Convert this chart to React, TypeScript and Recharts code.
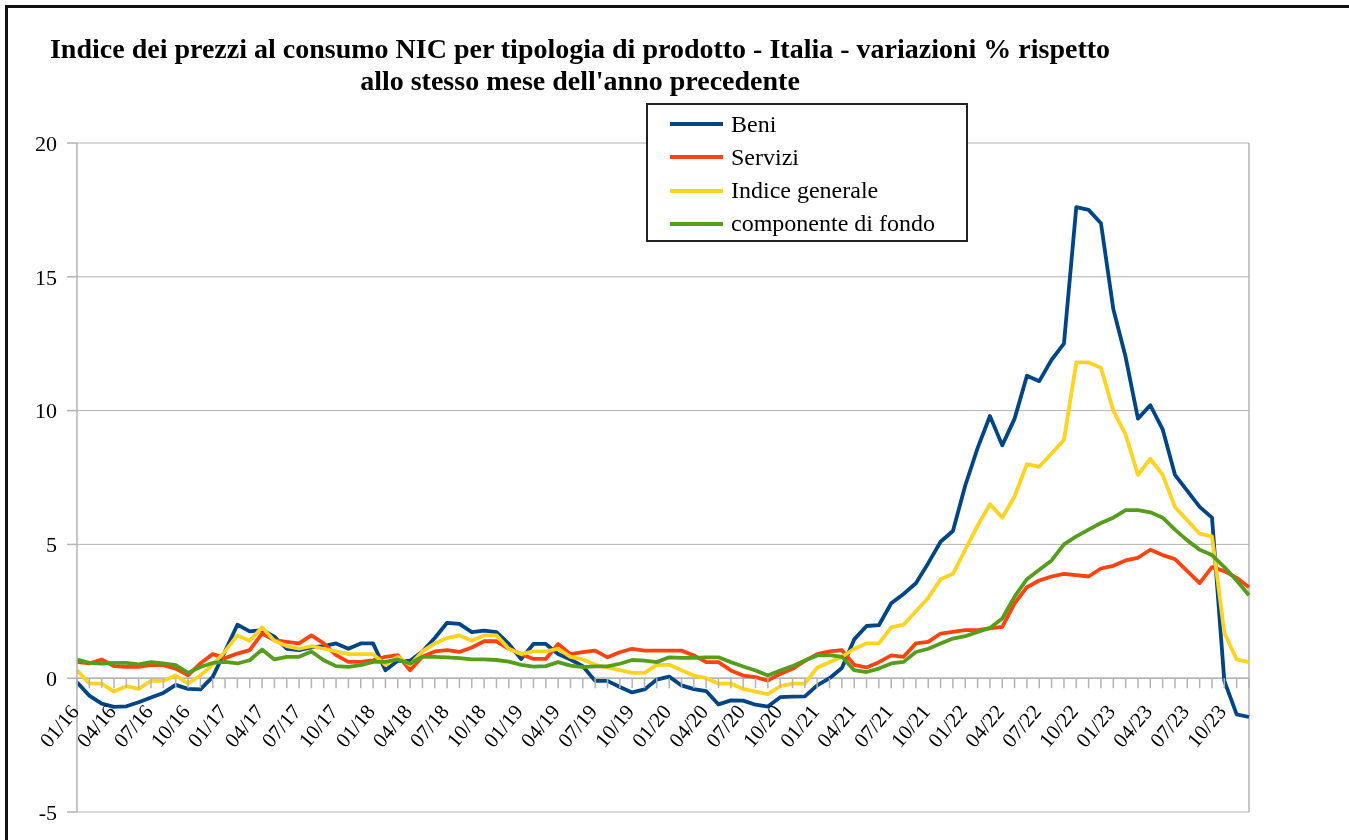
import { CartesianGrid, Line, LineChart, ReferenceLine, XAxis, YAxis } from "recharts";

const years = ["16", "17", "18", "19", "20", "21", "22", "23"];
const monthNums = ["01", "02", "03", "04", "05", "06", "07", "08", "09", "10", "11", "12"];
const months = years.flatMap((y) => monthNums.map((m) => `${m}/${y}`));

const yTicks = [-5, 0, 5, 10, 15, 20];

// variazioni % tendenziali, gen 2016 - dic 2023
const beni = [
  -0.15, -0.65, -0.95, -1.07, -1.05, -0.9, -0.72, -0.55, -0.25, -0.4, -0.42, 0.05,
  1.0, 2.0, 1.75, 1.8, 1.55, 1.1, 1.05, 1.15, 1.2, 1.3, 1.1, 1.3,
  1.3, 0.3, 0.65, 0.65, 1.0, 1.5, 2.07, 2.03, 1.72, 1.78, 1.72, 1.28,
  0.72, 1.28, 1.28, 0.9, 0.7, 0.45, -0.1, -0.1, -0.33, -0.53, -0.42, -0.05,
  0.06, -0.27, -0.41, -0.48, -0.98, -0.83, -0.84, -0.99, -1.06, -0.71, -0.69, -0.68,
  -0.27, 0.0, 0.38, 1.45, 1.95, 1.98, 2.8, 3.15, 3.55, 4.3, 5.1, 5.5,
  7.2, 8.6, 9.8, 8.7, 9.7, 11.3, 11.1, 11.9, 12.5, 17.6, 17.5, 17.0,
  13.8, 12.0, 9.7, 10.2, 9.3, 7.6, 7.0, 6.4, 6.0, -0.1, -1.35, -1.45,
];

const servizi = [
  0.61, 0.55, 0.7, 0.45, 0.42, 0.42, 0.5, 0.49, 0.36, 0.11, 0.55, 0.9,
  0.75, 0.92, 1.05, 1.67, 1.42, 1.36, 1.3, 1.6, 1.3, 0.86, 0.61, 0.61,
  0.67, 0.8, 0.86, 0.3, 0.8, 1.0, 1.05, 0.98, 1.15, 1.38, 1.38, 1.1,
  0.9, 0.72, 0.72, 1.28, 0.9, 0.97, 1.03, 0.78, 0.97, 1.1, 1.03, 1.03,
  1.03, 1.03, 0.85, 0.6, 0.6, 0.29, 0.1, 0.04, -0.09, 0.16, 0.35, 0.65,
  0.9, 1.0, 1.05, 0.5, 0.4, 0.6, 0.85, 0.8, 1.3, 1.36, 1.67, 1.73,
  1.8, 1.8, 1.86, 1.92, 2.8, 3.4, 3.65, 3.8, 3.9, 3.85, 3.8, 4.1,
  4.2, 4.4, 4.5, 4.8, 4.6, 4.45, 4.0, 3.55, 4.15, 4.0, 3.75, 3.4,
];

const indiceGenerale = [
  0.3, -0.2, -0.2, -0.5, -0.3, -0.4, -0.1, -0.1, 0.1, -0.2, 0.1, 0.5,
  1.0, 1.6, 1.4, 1.9, 1.4, 1.2, 1.1, 1.2, 1.1, 1.0, 0.9, 0.9,
  0.9, 0.5, 0.8, 0.5, 1.0, 1.3, 1.5, 1.6, 1.4, 1.6, 1.6, 1.1,
  0.9, 1.0, 1.0, 1.1, 0.8, 0.7, 0.5, 0.4, 0.3, 0.2, 0.2, 0.5,
  0.5, 0.3, 0.1, 0.0, -0.2, -0.2, -0.4, -0.5, -0.6, -0.3, -0.2, -0.2,
  0.4, 0.6, 0.8, 1.1, 1.3, 1.3, 1.9, 2.0, 2.5, 3.0, 3.7, 3.9,
  4.8, 5.7, 6.5, 6.0, 6.8, 8.0, 7.9, 8.4, 8.9, 11.8, 11.8, 11.6,
  10.0, 9.1, 7.6, 8.2, 7.6, 6.4, 5.9, 5.4, 5.3, 1.7, 0.7, 0.6,
];

const componenteDiFondo = [
  0.7, 0.57, 0.55, 0.57, 0.57, 0.52, 0.6, 0.55, 0.49, 0.2, 0.42, 0.57,
  0.61, 0.55, 0.67, 1.07, 0.7, 0.8, 0.8, 1.0, 0.67, 0.45, 0.42, 0.49,
  0.61, 0.61, 0.7, 0.55, 0.8, 0.8, 0.78, 0.75, 0.7, 0.7, 0.68, 0.62,
  0.5, 0.43, 0.45, 0.6, 0.47, 0.41, 0.44, 0.44, 0.54, 0.68, 0.66, 0.6,
  0.78, 0.76, 0.76, 0.78, 0.78, 0.6, 0.44, 0.29, 0.1, 0.29, 0.45, 0.66,
  0.85, 0.86, 0.8, 0.3, 0.23, 0.36, 0.55, 0.61, 0.98, 1.1, 1.3, 1.48,
  1.57, 1.73, 1.88, 2.23, 3.05, 3.7, 4.05, 4.4, 5.0, 5.3, 5.55, 5.8,
  6.0, 6.28, 6.28, 6.2, 6.0, 5.55, 5.15, 4.8, 4.6, 4.15, 3.65, 3.1,
];

const series = [
  { key: "beni", name: "Beni", color: "#004586" },
  { key: "servizi", name: "Servizi", color: "#ff420e" },
  { key: "indice", name: "Indice generale", color: "#ffd320" },
  { key: "fondo", name: "componente di fondo", color: "#579d1c" },
];

const data = months.map((month, i) => ({
  month,
  beni: beni[i],
  servizi: servizi[i],
  indice: indiceGenerale[i],
  fondo: componenteDiFondo[i],
}));

const FONT = "'Liberation Serif', 'Times New Roman', serif";
const GRID = "#b3b3b3";

const CHART_W = 1341;
const CHART_H = 832;
const MARGIN = { top: 135, right: 100, left: 0, bottom: 18 };
const X_AXIS_H = 10;
const Y_MIN = -5;
const Y_MAX = 20;
const PLOT_H = CHART_H - MARGIN.top - MARGIN.bottom - X_AXIS_H;
// the category axis crosses the value axis at 0
const ZERO_Y = MARGIN.top + (PLOT_H * Y_MAX) / (Y_MAX - Y_MIN);

function MonthTick(props: any) {
  const { x, index, payload } = props;
  const ax = x + 3;
  const ay = ZERO_Y + 34;
  return (
    <g>
      <line x1={x} x2={x} y1={ZERO_Y} y2={ZERO_Y + 10} stroke={GRID} strokeWidth={1.5} />
      {index % 3 === 0 && (
        <text
          x={ax}
          y={ay}
          textAnchor="end"
          fontSize={21}
          fontFamily={FONT}
          fill="#000"
          transform={`rotate(-50, ${ax}, ${ay})`}
        >
          {payload.value}
        </text>
      )}
    </g>
  );
}

export default function App() {
  return (
    <div style={{ width: CHART_W, height: CHART_H, position: "relative" }}>
      <div
        style={{
          position: "fixed",
          left: 5,
          top: 5,
          width: 1349,
          height: 840,
          borderLeft: "3px solid #111",
          borderTop: "3px solid #111",
          pointerEvents: "none",
        }}
      />
      <div
        style={{
          position: "absolute",
          left: 0,
          top: 25,
          width: 1144,
          textAlign: "center",
          fontWeight: "bold",
          fontSize: 28,
          lineHeight: "32px",
          color: "#000",
          fontFamily: FONT,
        }}
      >
        Indice dei prezzi al consumo NIC per tipologia di prodotto - Italia - variazioni % rispetto
        <br />
        allo stesso mese dell'anno precedente
      </div>

      <div style={{ position: "absolute", left: 0, top: 0 }}>
        <LineChart width={CHART_W} height={CHART_H} data={data} margin={MARGIN}>
          <CartesianGrid stroke={GRID} vertical={false} />
          <XAxis
            dataKey="month"
            height={X_AXIS_H}
            interval={0}
            axisLine={false}
            tickLine={false}
            tickSize={0}
            tick={<MonthTick />}
          />
          <YAxis
            domain={[Y_MIN, Y_MAX]}
            ticks={yTicks}
            width={69}
            tickSize={10}
            tickMargin={10}
            axisLine={{ stroke: GRID, strokeWidth: 1.5 }}
            tickLine={{ stroke: GRID, strokeWidth: 1.5 }}
            tick={{ fill: "#000", fontSize: 22, fontFamily: FONT }}
          />
          <ReferenceLine y={0} stroke={GRID} strokeWidth={1.5} />
          <ReferenceLine x={months[months.length - 1]} stroke={GRID} strokeWidth={1.5} />
          {series.map((s) => (
            <Line
              key={s.key}
              dataKey={s.key}
              name={s.name}
              stroke={s.color}
              strokeWidth={3.8}
              dot={false}
              type="linear"
              strokeLinejoin="round"
              isAnimationActive={false}
            />
          ))}
        </LineChart>
      </div>

      <div
        style={{
          position: "absolute",
          left: 638,
          top: 95,
          width: 322,
          height: 139,
          boxSizing: "border-box",
          border: "2px solid #222",
          background: "#fff",
          fontFamily: FONT,
        }}
      >
        {series.map((s, i) => (
          <div
            key={s.key}
            style={{
              position: "absolute",
              left: 22,
              top: 3 + i * 33.3,
              height: 32,
              display: "flex",
              alignItems: "center",
              whiteSpace: "nowrap",
            }}
          >
            <span style={{ display: "inline-block", width: 53, height: 4, background: s.color }} />
            <span style={{ marginLeft: 8, fontSize: 24, color: "#000" }}>{s.name}</span>
          </div>
        ))}
      </div>
    </div>
  );
}
